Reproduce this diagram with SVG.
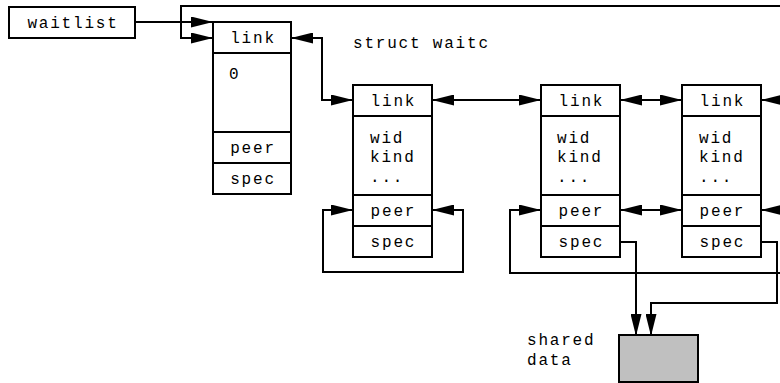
<svg xmlns="http://www.w3.org/2000/svg" width="780" height="383" viewBox="0 0 780 383">
<defs>
<marker id="ah" markerUnits="userSpaceOnUse" markerWidth="22" markerHeight="11" refX="22" refY="5.5" orient="auto-start-reverse" viewBox="0 0 22 11">
<path d="M0,0 L22,5.5 L0,11 z" fill="#000"/>
</marker>
<style>
.box{fill:#fff;stroke:#000;stroke-width:2}
.sep{stroke:#000;stroke-width:2}
.t{font-family:"Liberation Mono","Courier New",monospace;font-size:16px;letter-spacing:1.8px;fill:#000}
.c{text-anchor:middle}
.w{fill:none;stroke:#000;stroke-width:2}
.e{marker-end:url(#ah)}
.b{marker-start:url(#ah);marker-end:url(#ah)}
</style>
</defs>
<rect width="780" height="383" fill="#fff"/>
<g id="connectors">
<path class="w e" d="M135,22 H213"/>
<path class="w e" d="M790,6 H181 V38 H213"/>
<path class="w b" d="M291,38 H322 V100 H353"/>
<path class="w b" d="M432,100 H541"/>
<path class="w b" d="M620,100 H682"/>
<path class="w e" d="M790,100 H761"/>
<path class="w b" d="M353,210 H323 V272 H463 V210 H432"/>
<path class="w e" d="M790,273 H510 V210 H541"/>
<path class="w b" d="M620,210 H682"/>
<path class="w e" d="M790,210 H761"/>
<path class="w e" d="M620,242 H636 V336"/>
<path class="w e" d="M761,242 H777 V303 H651 V336"/>
</g>
<g id="waitlist">
<rect class="box" x="9" y="7" width="126" height="31"/>
<text class="t c" x="73" y="28">waitlist</text>
</g>
<g id="head">
<rect class="box" x="213" y="22" width="78" height="172"/>
<line class="sep" x1="213" y1="53" x2="291" y2="53"/>
<line class="sep" x1="213" y1="132" x2="291" y2="132"/>
<line class="sep" x1="213" y1="163" x2="291" y2="163"/>
<text class="t c" x="253" y="43">link</text>
<text class="t" x="229" y="79">0</text>
<text class="t c" x="253" y="153">peer</text>
<text class="t c" x="253" y="184">spec</text>
</g>
<g id="label-struct">
<text class="t" x="353" y="48">struct waitc</text>
</g>
<g id="node2">
<rect class="box" x="353" y="85" width="79" height="172"/>
<line class="sep" x1="353" y1="116" x2="432" y2="116"/>
<line class="sep" x1="353" y1="195" x2="432" y2="195"/>
<line class="sep" x1="353" y1="226" x2="432" y2="226"/>
<text class="t c" x="393.4" y="106">link</text>
<text class="t" x="370" y="143">wid</text>
<text class="t" x="370" y="162">kind</text>
<text class="t" x="370" y="182">...</text>
<text class="t c" x="393.4" y="216">peer</text>
<text class="t c" x="393.4" y="247">spec</text>
</g>
<g id="node3">
<rect class="box" x="541" y="85" width="79" height="172"/>
<line class="sep" x1="541" y1="116" x2="620" y2="116"/>
<line class="sep" x1="541" y1="195" x2="620" y2="195"/>
<line class="sep" x1="541" y1="226" x2="620" y2="226"/>
<text class="t c" x="581.4" y="106">link</text>
<text class="t" x="557" y="143">wid</text>
<text class="t" x="557" y="162">kind</text>
<text class="t" x="557" y="182">...</text>
<text class="t c" x="581.4" y="216">peer</text>
<text class="t c" x="581.4" y="247">spec</text>
</g>
<g id="node4">
<rect class="box" x="682" y="85" width="79" height="172"/>
<line class="sep" x1="682" y1="116" x2="761" y2="116"/>
<line class="sep" x1="682" y1="195" x2="761" y2="195"/>
<line class="sep" x1="682" y1="226" x2="761" y2="226"/>
<text class="t c" x="722.4" y="106">link</text>
<text class="t" x="699" y="143">wid</text>
<text class="t" x="699" y="162">kind</text>
<text class="t" x="699" y="182">...</text>
<text class="t c" x="722.4" y="216">peer</text>
<text class="t c" x="722.4" y="247">spec</text>
</g>
<g id="shared">
<rect x="619" y="335" width="79" height="47" fill="#c0c0c0" stroke="#000" stroke-width="2"/>
<text class="t" x="527" y="345">shared</text>
<text class="t" x="527" y="365">data</text>
</g>
</svg>
